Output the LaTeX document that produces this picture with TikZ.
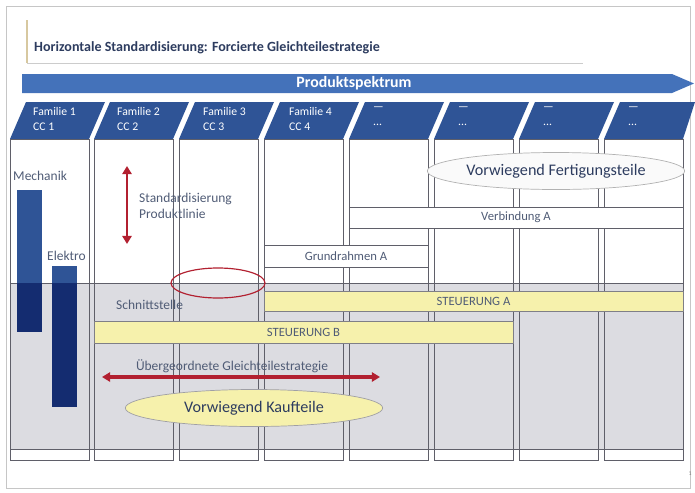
\documentclass[tikz,border=0pt]{standalone}
\usepackage{fontspec}
\setmainfont{Carlito}
\usetikzlibrary{shapes, arrows.meta, positioning, calc}
\definecolor{Head}{RGB}{47, 84, 150}
\definecolor{Spectrum}{RGB}{68, 114, 186}
\definecolor{Navy}{RGB}{20, 44, 112}
\definecolor{Band}{RGB}{220, 220, 225}
\definecolor{Pale}{RGB}{246, 241, 172}
\definecolor{Rim}{RGB}{95, 95, 105}
\definecolor{Slate}{RGB}{80, 92, 118}
\definecolor{TitleBlue}{RGB}{45, 60, 95}
\definecolor{Wine}{RGB}{178, 32, 48}
\definecolor{Tan}{RGB}{215, 200, 160}

\tikzset{
  headtext/.style={anchor=north west, align=left, text=white, inner sep=0pt, font=\fontsize{10}{12.5}\selectfont},
  column/.style={draw=Rim, line width=0.6pt},
  lbltext/.style={text=Slate, inner sep=0pt, font=\fontsize{11.5}{14}\selectfont},
  whitebox/.style={draw=Rim, fill=white, line width=0.6pt, inner sep=0pt, text=Slate, font=\fontsize{10.8}{12}\selectfont},
  yellowbox/.style={draw=Rim!80, fill=Pale, line width=0.6pt, inner sep=0pt, text=Slate, font=\fontsize{10.8}{12}\selectfont},
  cloud/.style={ellipse, line width=0.6pt, inner sep=0pt, minimum width=7.72cm, minimum height=1.11cm, text=TitleBlue, font=\fontsize{13.8}{15}\selectfont},
  winearrow/.style={draw=Wine, line width=2.2pt, {Triangle[length=7pt,width=8pt]}-{Triangle[length=7pt,width=8pt]}}
}

\begin{document}
\begin{tikzpicture}[x=0.03cm, y=-0.03cm]
  \useasboundingbox (0,0) rectangle (695,492);
  \draw[gray!45] (6,6) rectangle (690,488);

  % title
  \draw[Tan, line width=1pt] (27,20) -- (27,63);
  \draw[gray!40, line width=0.8pt] (27,63) -- (583,63);
  \node[anchor=west, inner sep=0pt, text=TitleBlue, font=\fontsize{12}{14}\selectfont\bfseries] (title) at (34,48) {Horizontale Standardisierung: Forcierte Gleichteilestrategie};

  % product range arrow
  \fill[Spectrum] (22,74) -- (672,74) -- (694,83.5) -- (672,93) -- (22,93) -- cycle;
  \node[text=white, font=\fontsize{13.5}{15}\selectfont\bfseries] (spektrum) at (354,83.5) {Produktspektrum};

  % family headers
  \fill[Head] (10,139) -- (89,139) -- (105,102) -- (26,102) -- cycle;
  \fill[Head] (94,139) -- (173,139) -- (189,102) -- (110,102) -- cycle;
  \fill[Head] (179,139) -- (258,139) -- (274,102) -- (195,102) -- cycle;
  \fill[Head] (264,139) -- (343,139) -- (359,102) -- (280,102) -- cycle;
  \fill[Head] (349,139) -- (428,139) -- (444,102) -- (365,102) -- cycle;
  \fill[Head] (434,139) -- (513,139) -- (529,102) -- (450,102) -- cycle;
  \fill[Head] (519,139) -- (598,139) -- (614,102) -- (535,102) -- cycle;
  \fill[Head] (604,139) -- (683,139) -- (695,102) -- (620,102) -- cycle;
  \node[headtext] (fam1) at (33,107) {Familie 1\\CC 1};
  \node[headtext] (fam2) at (117,107) {Familie 2\\CC 2};
  \node[headtext] (fam3) at (203,107) {Familie 3\\CC 3};
  \node[headtext] (fam4) at (289,107) {Familie 4\\CC 4};
  \node[headtext] (fam5) at (373,107) {---\\...};
  \node[headtext] (fam6) at (458,107) {---\\...};
  \node[headtext] (fam7) at (543,107) {---\\...};
  \node[headtext] (fam8) at (628,107) {---\\...};

  % columns and shared band
  \fill[Band] (10,283) rectangle (683,449);
  \draw[column] (10,139) rectangle (89,460);
  \draw[column] (94,139) rectangle (173,460);
  \draw[column] (179,139) rectangle (258,460);
  \draw[column] (264,139) rectangle (343,460);
  \draw[column] (349,139) rectangle (428,460);
  \draw[column] (434,139) rectangle (513,460);
  \draw[column] (519,139) rectangle (598,460);
  \draw[column] (604,139) rectangle (683,460);
  \draw[column] (10,283) -- (683,283);
  \draw[column] (10,449) -- (683,449);

  % bars
  \fill[Head] (17,190) rectangle (42,283);
  \fill[Navy] (17,283) rectangle (42,332);
  \fill[Head] (52,266) rectangle (77,283);
  \fill[Navy] (52,283) rectangle (77,407);
  \node[lbltext, anchor=west] (mechanik) at (13,176) {Mechanik};
  \node[lbltext, anchor=west] (elektro) at (47,256) {Elektro};

  % boxes
  \node[whitebox, minimum width=10.02cm, minimum height=0.63cm] (verbindung) at (516,217.5) {Verbindung A};
  \node[whitebox, minimum width=4.92cm, minimum height=0.66cm] (grundrahmen) at (346,256) {Grundrahmen A};
  \node[yellowbox, minimum width=12.57cm, minimum height=0.6cm] (steuerA) at (473.5,301) {STEUERUNG A};
  \node[yellowbox, minimum width=12.57cm, minimum height=0.66cm] (steuerB) at (303.5,332) {STEUERUNG B};

  \node[cloud, draw=gray!60, fill=gray!4] (fertigung) at (556,171) {Vorwiegend Fertigungsteile};
  \node[cloud, draw=Rim!60, fill=Pale] (kauf) at (254,408) {Vorwiegend Kaufteile};
  \node[ellipse, draw=Wine, line width=1pt, minimum width=2.82cm, minimum height=0.9cm] (schnittmark) at (218,283) {};

  % strategy arrows
  \coordinate (stdtop) at (127,166);
  \coordinate (stdbot) at (127,244);
  \draw[winearrow] (stdtop) -- (stdbot);
  \node[lbltext, anchor=west, align=left] (stdlinie) at (139,206) {Standardisierung\\Produktlinie};
  \node[lbltext, anchor=west] (schnitt) at (116,305) {Schnittstelle};

  \coordinate (gleichL) at (102,377);
  \coordinate (gleichR) at (380,377);
  \draw[winearrow, line width=3pt] (gleichL) -- (gleichR);
  \node[lbltext] (uebergeordnet) at (232,366) {Übergeordnete Gleichteilestrategie};

  \node[inner sep=0pt, text=gray, font=\fontsize{5}{6}\selectfont] (seite) at (690,474) {1};
\end{tikzpicture}
\end{document}
